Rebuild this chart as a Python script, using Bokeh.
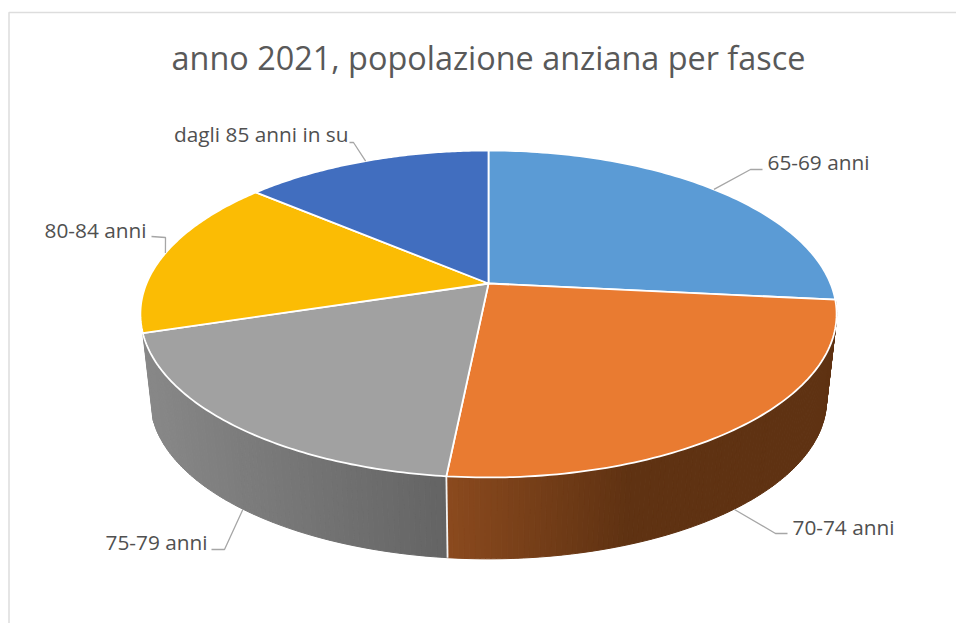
import numpy as np
from bokeh.plotting import figure
from bokeh.models import Range1d
from bokeh.core.properties import value
from bokeh.embed import file_html
from bokeh.resources import INLINE

# ---- data (share of population, %)
title = "anno 2021, popolazione anziana per fasce"
categories = ["65-69 anni", "70-74 anni", "75-79 anni", "80-84 anni", "dagli 85 anni in su"]
shares = [26.6, 25.0, 18.6, 16.0, 13.8]
top_colors = ["#5B9BD5", "#E97B31", "#A1A1A1", "#FBBC04", "#416EBF"]

# ---- page geometry, in window pixels
W, H, OFF = 956, 623, 0
CX, CY = 488.0, 283.0
A, B, K = 342.0, 157.8, 0.1865      # perspective circle
LOW_SCALE, LOW_CY = 0.971, 370.0    # lower rim

# wall shading: (x where gradient starts, rgb) -> (x where it ends, rgb)
wall_shades = {
    1: ((445, (139, 74, 30)), (625, (95, 50, 18))),
    2: ((150, (136, 136, 136)), (445, (100, 100, 100))),
}
# leader elbows and label placement (window pixels)
leader_paths = {
    0: [(750, 169), (762, 169)],
    1: [(775, 533), (787, 533)],
    2: [(224, 549), (211, 549)],
    3: [(165, 237), (151, 236)],
    4: [(353, 142), (349, 142)],
}
label_pos = [(767, 161), (792, 526), (207, 541), (146, 229), (348, 133)]
label_align = ["left", "left", "right", "right", "right"]


def upper(t):
    u, v = np.sin(t), -np.cos(t)
    d = 1 - K * v
    return CX + A * u / d, CY + B * v / d


def lower(t):
    u, v = np.sin(t), -np.cos(t)
    d = 1 - K * v
    return CX + A * LOW_SCALE * u / d, LOW_CY + B * LOW_SCALE * v / d


def hexcol(rgb):
    return "#%02x%02x%02x" % tuple(int(round(c)) for c in rgb)


fr = np.array(shares) / sum(shares)
edges = np.concatenate([[0], np.cumsum(fr)]) * 2 * np.pi
mids = (edges[:-1] + edges[1:]) / 2

p = figure(width=W, height=H, output_backend="svg", toolbar_location=None,
           x_range=Range1d(OFF, OFF + W), y_range=Range1d(OFF + H, OFF),
           min_border=0, outline_line_color=None, background_fill_color="white",
           border_fill_color="white")
p.axis.visible = False
p.grid.visible = False

# chart frame
p.line([8.5, 8.5, OFF + W], [OFF + H, 12, 12], line_color="#DDDDDD", line_width=1.5)

# walls, thin strips so that the shade runs across them
wx, wy, wc = [], [], []
for i, (a, b) in enumerate(zip(edges[:-1], edges[1:])):
    if i not in wall_shades:
        continue
    (x0, c0), (x1, c1) = wall_shades[i]
    ts = np.linspace(a, b, max(int(np.degrees(b - a) / 0.75), 2))
    for t0, t1 in zip(ts[:-1], ts[1:]):
        ux0, uy0 = upper(t0)
        ux1, uy1 = upper(t1)
        lx0, ly0 = lower(t0)
        lx1, ly1 = lower(t1)
        wx.append([ux0, ux1, lx1, lx0])
        wy.append([uy0, uy1, ly1, ly0])
        f = np.clip(((lx0 + lx1) / 2 - x0) / (x1 - x0), 0, 1)
        wc.append(hexcol(np.array(c0) + f * (np.array(c1) - np.array(c0))))
p.patches(wx, wy, fill_color=wc, line_color=wc, line_width=1)

# white seam on the wall, between the two visible slices
ux, uy = upper(edges[2])
lx, ly = lower(edges[2])
p.line([ux, lx], [uy, ly], line_color="#F4F4F4", line_width=1.8)

# top faces
fx, fy = [], []
for a, b in zip(edges[:-1], edges[1:]):
    ts = np.linspace(a, b, 90)
    x, y = upper(ts)
    fx.append([CX] + list(x))
    fy.append([CY] + list(y))
p.patches(fx, fy, fill_color=top_colors, line_color="white", line_width=1.8, line_join="round")

# leaders: from the middle of each slice's rim
lead_x, lead_y = [], []
for i, m in enumerate(mids):
    ax, ay = lower(m) if i in wall_shades else upper(m)
    lead_x.append([ax] + [pt[0] for pt in leader_paths[i]])
    lead_y.append([ay] + [pt[1] for pt in leader_paths[i]])
p.multi_line(lead_x, lead_y, line_color="#A6A6A6", line_width=1.3)

# labels
for name, (x, y), al in zip(categories, label_pos, label_align):
    p.text([x], [y], text=[name], text_font=value("Open Sans"), text_font_size="20.8px",
           text_color="#505050", text_align=al, text_baseline="middle")

p.text([CX], [56], text=[title], text_font=value("Open Sans"), text_font_size="32.4px",
       text_color="#595959", text_align="center", text_baseline="middle")

open("out.html", "w").write(file_html(p, INLINE))
